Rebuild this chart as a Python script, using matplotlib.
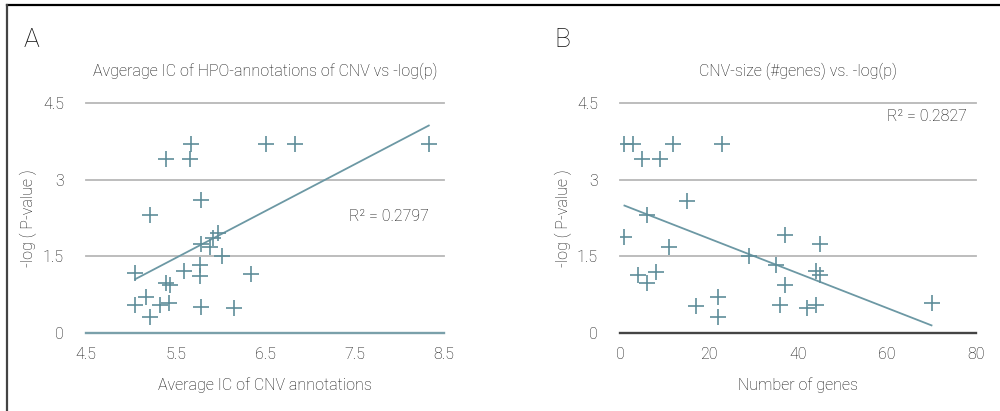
import matplotlib
matplotlib.use("Agg")
import matplotlib.pyplot as plt
from matplotlib.lines import Line2D
import numpy as np

plt.rcParams['font.family'] = ['Roboto', 'DejaVu Sans']
plt.rcParams['font.weight'] = 'light'
plt.rcParams['axes.titleweight'] = 'light'
plt.rcParams['axes.labelweight'] = 'light'

# panel A data: average IC vs -log(p)
ic_x = [5.05, 5.05, 5.17, 5.22, 5.22, 5.33, 5.39, 5.39, 5.44, 5.43,
        5.59, 5.67, 5.66, 5.77, 5.77, 5.78, 5.78, 5.79, 5.89, 5.92,
        5.98, 6.02, 6.15, 6.34, 6.51, 6.84, 8.33]
ic_y = [1.18, 0.55, 0.71, 0.31, 2.31, 0.55, 3.41, 0.98, 0.94, 0.58,
        1.22, 3.70, 3.41, 1.33, 1.12, 2.60, 1.75, 0.51, 1.69, 1.85,
        1.95, 1.51, 0.48, 1.15, 3.70, 3.70, 3.70]

# panel B data: number of genes vs -log(p)
genes_x = [1, 3, 5, 9, 12, 23, 15, 6, 1, 11, 4, 8, 6, 17, 22, 22,
           29, 35, 37, 37, 36, 45, 44, 45, 42, 44, 70]
genes_y = [3.70, 3.70, 3.41, 3.41, 3.70, 3.70, 2.59, 2.31, 1.87, 1.68,
           1.13, 1.20, 0.97, 0.52, 0.71, 0.31, 1.51, 1.33, 1.92, 0.94,
           0.55, 1.74, 1.22, 1.14, 0.48, 0.55, 0.58]

yticks = [0, 1.5, 3, 4.5]
ytick_labels = ['0', '1.5', '3', '4.5']

mark_col = '#5f8d99'
line_col = '#6c98a4'
grid_col = '#b8b8b8'
txt_col = '#111111'

fig = plt.figure(figsize=(10, 4.11), dpi=100)

# outer frame (top and left only)
fig.add_artist(Line2D([0.007, 1.0], [1 - 5/411, 1 - 5/411], color='black', lw=1.6))
fig.add_artist(Line2D([0.007, 0.007], [0, 1 - 5/411], color='#444444', lw=1.6))


def panel(rect, x, y, xlim, xticks, xlabels, title, xlabel, r2, r2_pos, letter, letter_x, ylab_x, zero_col):
    ax = fig.add_axes(rect)
    ax.set_xlim(*xlim)
    ax.set_ylim(0, 4.5)
    for v in yticks[1:]:
        ax.axhline(v, color=grid_col, lw=1.3, zorder=1, clip_on=False)
    ax.axhline(0, color=zero_col, lw=1.7, zorder=1, clip_on=False)
    ax.plot(x, y, '+', color=mark_col, markersize=12, markeredgewidth=1.2, zorder=3)
    # linear trendline
    k, b = np.polyfit(x, y, 1)
    xs = np.array([min(x), max(x)])
    ax.plot(xs, k * xs + b, color=line_col, lw=1.3, zorder=2)
    for s in ax.spines.values():
        s.set_visible(False)
    ax.set_yticks(yticks)
    ax.set_yticklabels(ytick_labels)
    ax.set_xticks(xticks)
    ax.set_xticklabels(xlabels)
    ax.tick_params(length=0, labelsize=11.5, labelcolor=txt_col)
    ax.tick_params(axis='y', pad=16)
    ax.tick_params(axis='x', pad=10)
    ax.set_xlabel(xlabel, fontsize=11.5, color=txt_col, labelpad=11)
    ax.set_title(title, fontsize=11.5, color=txt_col, pad=19)
    ax.text(r2_pos[0], r2_pos[1], r2, fontsize=11.5, color=txt_col,
            ha='right', va='center', transform=ax.transData)
    fig.text(letter_x, 1 - 40/411, letter, fontsize=19, va='center', ha='left', color='#111111')
    fig.text(ylab_x, rect[1] + rect[3] / 2, '-log ( P-value )', rotation=90, fontsize=11.5,
             va='center', ha='center', color=txt_col)
    return ax


panel([0.086, 1 - 333/411, 0.358, 230/411], ic_x, ic_y, (4.5, 8.5),
      [4.5, 5.5, 6.5, 7.5, 8.5], ['4.5', '5.5', '6.5', '7.5', '8.5'],
      'Avgerage IC of HPO-annotations of CNV vs -log(p)', 'Average IC of CNV annotations',
      'R² = 0.2797', (8.33, 2.28), 'A', 0.024, 0.028, '#7aa0aa')

panel([0.620, 1 - 333/411, 0.356, 230/411], genes_x, genes_y, (0, 80),
      [0, 20, 40, 60, 80], ['0', '20', '40', '60', '80'],
      'CNV-size (#genes) vs. -log(p)', 'Number of genes',
      'R² = 0.2827', (78, 4.23), 'B', 0.554, 0.563, '#444444')

fig.savefig('out.png', dpi=100)
